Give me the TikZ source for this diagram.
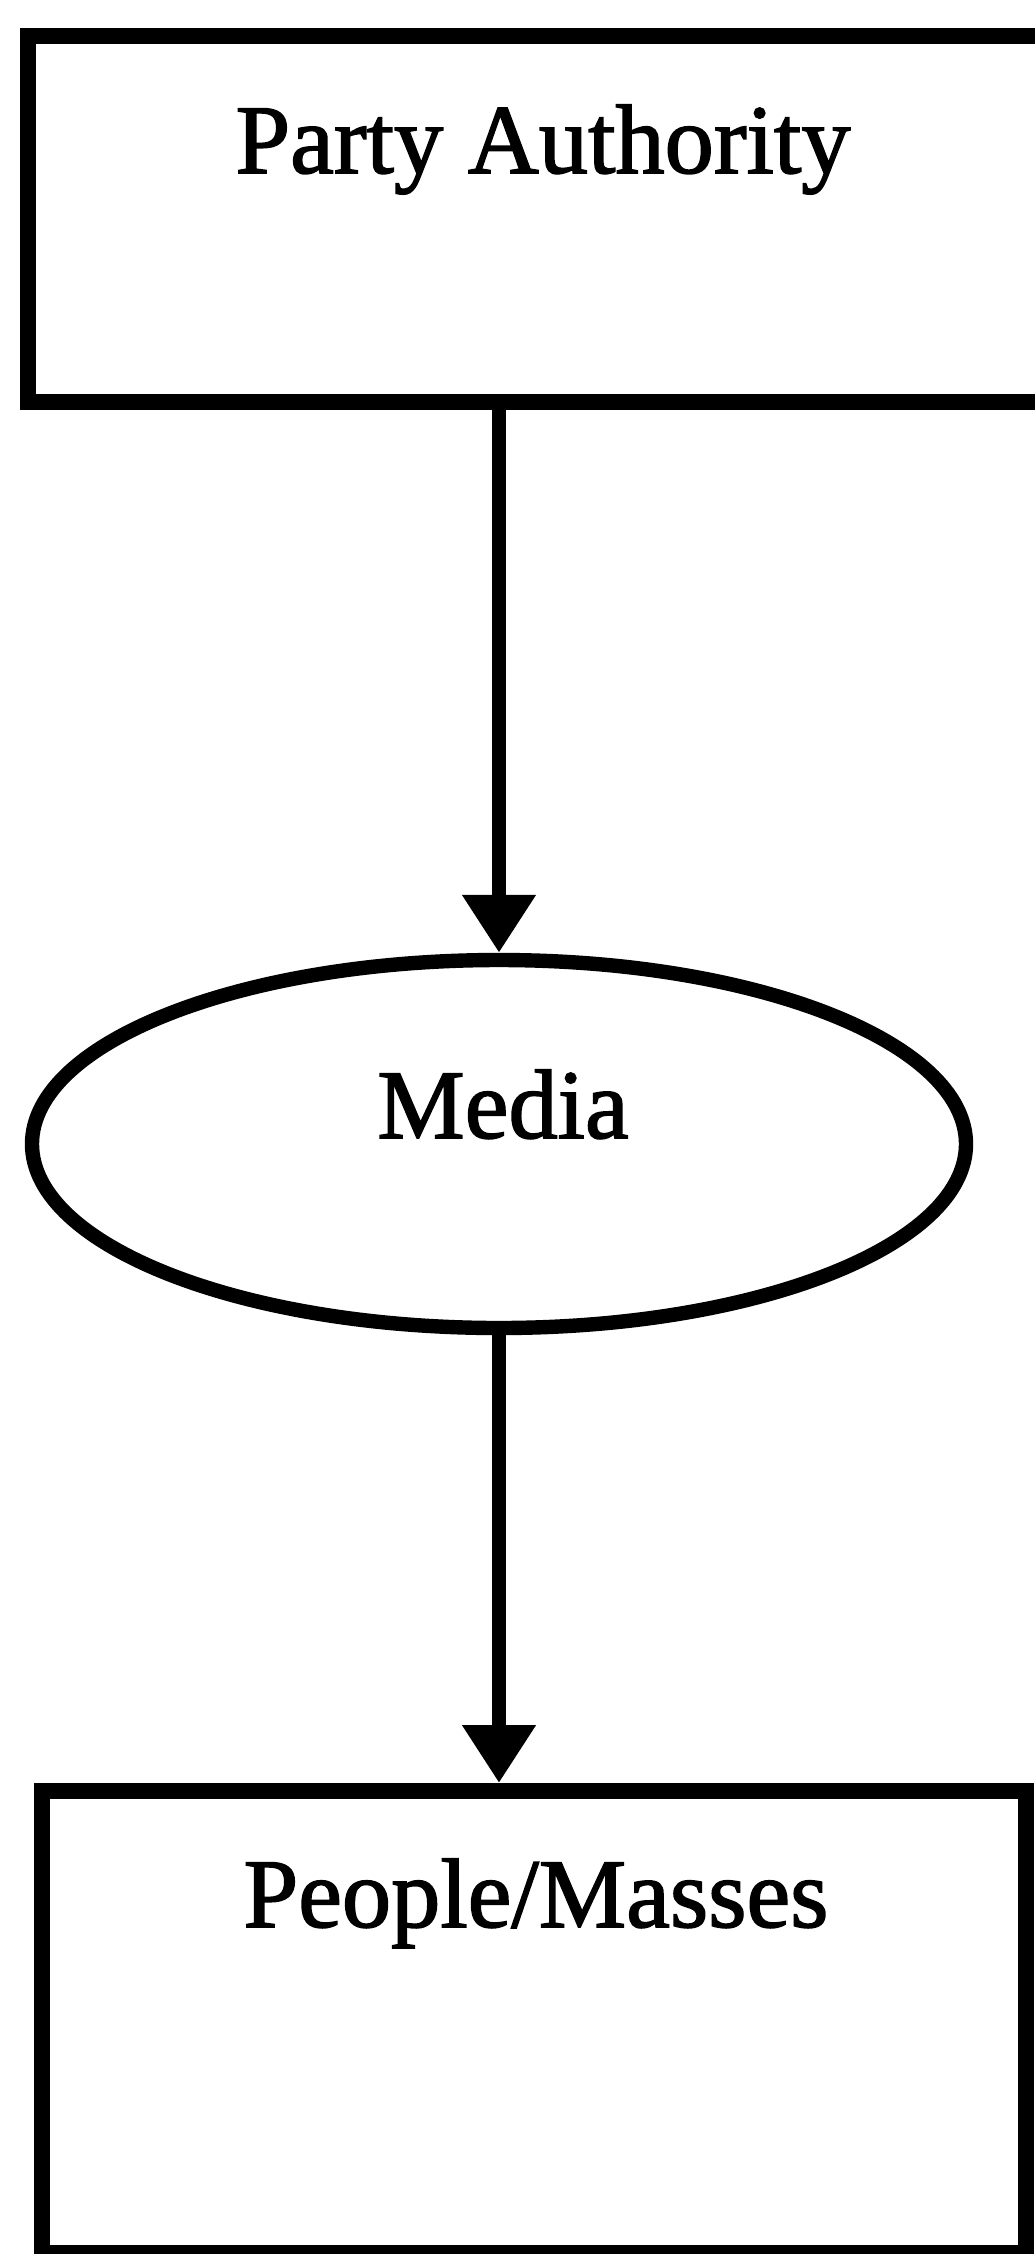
\documentclass[tikz,border=0pt]{standalone}
\usepackage{fontspec}
\setmainfont{Liberation Serif}
\newfontfamily\scanfont{Liberation Serif}[FakeBold=1.6]
\usepackage{tikz}
\usetikzlibrary{shapes.geometric,calc,positioning,arrows.meta}

\tikzset{
    flowbox/.style={draw=black, line width=0.4cm, rectangle, minimum width=#1, inner sep=0pt},
    flowbox/.default=24cm,
    mediaoval/.style={draw=black, line width=0.36cm, ellipse, minimum width=23.35cm, minimum height=9.2cm, inner sep=0pt},
    flowtext/.style={font=\scanfont\fontsize{70}{84}\selectfont, anchor=base, inner sep=0pt},
    flowarrow/.style={line width=0.36cm, -{Triangle[length=1.45cm, width=1.75cm]}}
}

\begin{document}
\begin{tikzpicture}
    \useasboundingbox (0, 0) rectangle (25.85, -56.35);

    % Top box (runs off the right edge)
    \node[flowbox=25.425cm, minimum height=9.15cm] (party) at (13.41, -5.475) {};
    \node[flowtext] (partytext) at (13.575, -4.325) {Party Authority};

    % Middle oval
    \node[mediaoval] (media) at (12.475, -28.6) {};
    \node[flowtext] (mediatext) at (12.575, -28.45) {Media};

    % Bottom box
    \node[flowbox=24.6cm, minimum height=11.55cm] (people) at (13.35, -50.55) {};
    \node[flowtext] (peopletext) at (13.4, -48.175) {People/Masses};

    % Arrows
    \draw[flowarrow] (media.north |- party.south) -- (media.north);
    \draw[flowarrow] (media.south) -- (media.south |- people.north);
\end{tikzpicture}
\end{document}
